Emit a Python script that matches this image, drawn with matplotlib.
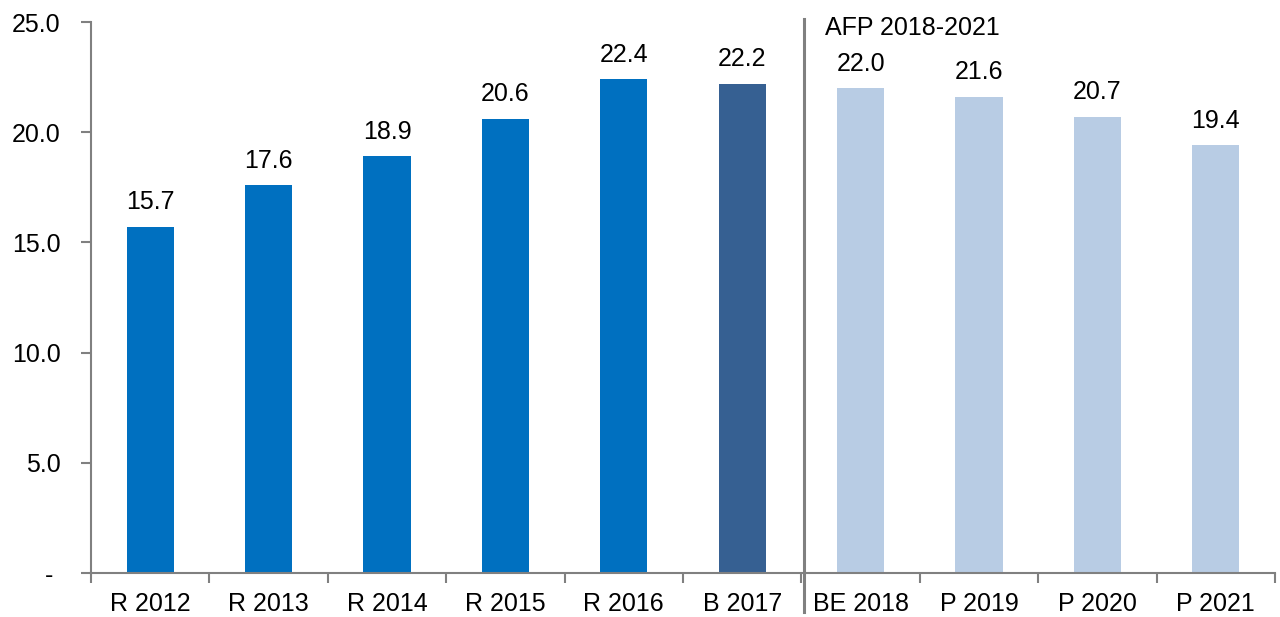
import matplotlib
matplotlib.use("Agg")
from matplotlib import pyplot as plt

labels = ["R 2012", "R 2013", "R 2014", "R 2015", "R 2016", "B 2017",
          "BE 2018", "P 2019", "P 2020", "P 2021"]
values = [15.7, 17.6, 18.9, 20.6, 22.4, 22.2, 22.0, 21.6, 20.7, 19.4]
colors = ["#0070C0"] * 5 + ["#366092"] + ["#B8CCE4"] * 4
yticks = [0, 5, 10, 15, 20, 25]
ytick_labels = ["- ", "5.0", "10.0", "15.0", "20.0", "25.0"]

plt.rcParams['font.family'] = ['Liberation Sans', 'DejaVu Sans']

fig = plt.figure(figsize=(12.8, 6.17), dpi=100)
ax = fig.add_axes([0.0711, 0.0713, 0.925, 0.8930])

x = list(range(len(labels)))
ax.bar(x, values, width=0.4, color=colors)

for xi, v in zip(x, values):
    ax.annotate(f"{v:.1f}", (xi, v), xytext=(0, 9), textcoords="offset points",
                ha="center", va="bottom", fontsize=18)

ax.set_xlim(-0.5, len(labels) - 0.5)
ax.set_ylim(0, 25)
ax.set_yticks(yticks)
ax.set_yticklabels(ytick_labels, fontsize=18)
ax.set_xticks(x)
ax.set_xticklabels(labels, fontsize=18)
ax.set_xticks([i - 0.5 for i in range(len(labels) + 1)], minor=True)

ax.tick_params(axis="x", which="major", length=0, pad=14)
ax.tick_params(axis="x", which="minor", length=7, color="#808080", width=1.5)
ax.tick_params(axis="y", length=7, color="#808080", width=1.5, pad=15)

for s in ["top", "right"]:
    ax.spines[s].set_visible(False)
for s in ["left", "bottom"]:
    ax.spines[s].set_color("#808080")
    ax.spines[s].set_linewidth(1.5)

# separator between actuals and the forecast period, runs down through the labels
ax.axvline(5.52, ymin=-0.071, ymax=1.005, color="#808080", linewidth=2.2, clip_on=False)
ax.text(5.7, 24.73, "AFP 2018-2021", ha="left", va="center", fontsize=18)

fig.savefig("out.png", dpi=100)
